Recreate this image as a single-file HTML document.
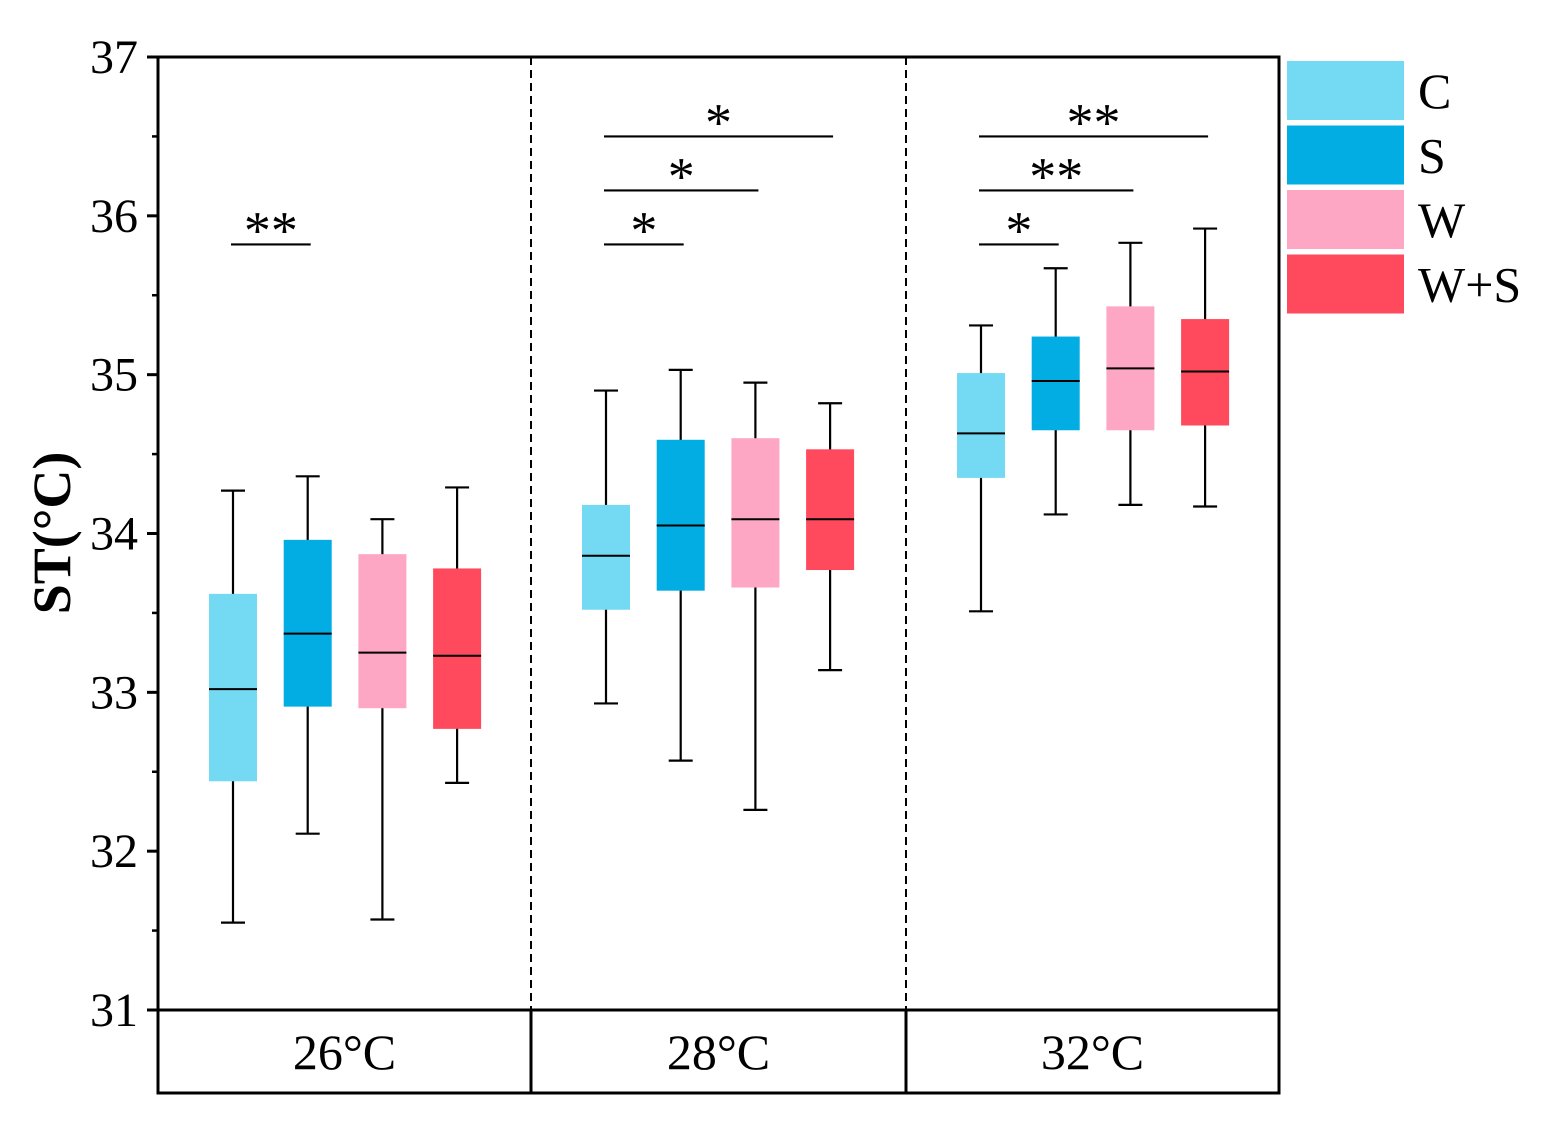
<!DOCTYPE html>
<html><head><meta charset="utf-8"><style>
body{margin:0;background:#fff}
text{font-family:"Liberation Serif","Times New Roman",Times,serif}
</style></head><body>
<svg id="chart" width="1545" height="1122" viewBox="0 0 1545 1122" xmlns="http://www.w3.org/2000/svg" font-family="Liberation Serif, Times New Roman, serif">
<g id="g"></g>
</svg>
<script>
const groups=["26°C","28°C","32°C"];
const series=["C","S","W","W+S"];
const colors=["#74d9f3","#02ade4","#fea7c4","#fe4a5c"];
const whiskerHigh=[[34.27,34.36,34.09,34.29],[34.90,35.03,34.95,34.82],[35.31,35.67,35.83,35.92]];
const q3=[[33.62,33.96,33.87,33.78],[34.18,34.59,34.60,34.53],[35.01,35.24,35.43,35.35]];
const medians=[[33.02,33.37,33.25,33.23],[33.86,34.05,34.09,34.09],[34.63,34.96,35.04,35.02]];
const q1=[[32.44,32.91,32.90,32.77],[33.52,33.64,33.66,33.77],[34.35,34.65,34.65,34.68]];
const whiskerLow=[[31.55,32.11,31.57,32.43],[32.93,32.57,32.26,33.14],[33.51,34.12,34.18,34.17]];
const yTicks=[31,32,33,34,35,36,37];
const sigLevels=[[35.82],[35.82,36.16,36.5],[35.82,36.16,36.5]];
const sigEnds=[[1],[1,2,3],[1,2,3]];
const sigMarks=[["**"],["*","*","*"],["*","**","**"]];

const NS="http://www.w3.org/2000/svg";
const g=document.getElementById('g');
const L=158,R=1279,T=57,B=1010,B2=1093;
const FF='"Liberation Serif","Times New Roman",serif';
const y=v=>B-(v-31)*(B-T)/6;
const gx0=[L,531,906],gw=[373,375,373];
const bx=(gi,si)=>gx0[gi]+75+si*74.7;
function el(t,a,p){const e=document.createElementNS(NS,t);for(const k in a)e.setAttribute(k,a[k]);if(t==='text')e.style.fontFamily=FF;(p||g).appendChild(e);return e;}
let e=el('rect',{x:L,y:T,width:R-L,height:B2-T,fill:'none',stroke:'#000','stroke-width':3});

e=el('line',{x1:L,x2:R,y1:B,y2:B,stroke:'#000','stroke-width':3});

[531,906].forEach((x,i)=>{
 e=el('line',{x1:x,x2:x,y1:T,y2:B,stroke:'#000','stroke-width':2,'stroke-dasharray':'8,5'});
 
 e=el('line',{x1:x,x2:x,y1:B,y2:B2,stroke:'#000','stroke-width':3});
 
});
yTicks.forEach((t,i)=>{
 e=el('line',{x1:L-11,x2:L,y1:y(t),y2:y(t),stroke:'#000','stroke-width':3});
 
 e=el('text',{x:138,y:y(t)+16,'text-anchor':'end','font-size':48});e.textContent=t;
 
 if(i<yTicks.length-1){e=el('line',{x1:L-6,x2:L,y1:y(t+0.5),y2:y(t+0.5),stroke:'#000','stroke-width':2.5});
 }
});
e=el('text',{x:0,y:0,'text-anchor':'middle','font-size':54,'font-weight':'bold',transform:'translate(70,533) rotate(-90)'});e.textContent='ST(°C)';

groups.forEach((gn,gi)=>{
 e=el('text',{x:gx0[gi]+gw[gi]/2,y:1069,'text-anchor':'middle','font-size':50});e.textContent=gn;
 
 series.forEach((s,si)=>{
  const cx=bx(gi,si),w=48;
  e=el('line',{x1:cx,x2:cx,y1:y(whiskerHigh[gi][si]),y2:y(whiskerLow[gi][si]),stroke:'#000','stroke-width':2.2});
  
  [whiskerHigh[gi][si],whiskerLow[gi][si]].forEach(v=>{e=el('line',{x1:cx-12,x2:cx+12,y1:y(v),y2:y(v),stroke:'#000','stroke-width':2.2});
  });
  e=el('rect',{x:cx-w/2,y:y(q3[gi][si]),width:w,height:y(q1[gi][si])-y(q3[gi][si]),fill:colors[si]});
  
  e=el('line',{x1:cx-w/2,x2:cx+w/2,y1:y(medians[gi][si]),y2:y(medians[gi][si]),stroke:'#000','stroke-width':2});
  
 });
 sigLevels[gi].forEach((lv,k)=>{
  const x1=bx(gi,0)-2,x2=bx(gi,sigEnds[gi][k])+3;
  e=el('line',{x1:x1,x2:x2,y1:y(lv),y2:y(lv),stroke:'#000','stroke-width':2.2});
  
  e=el('text',{x:(x1+x2)/2,y:y(lv)+4,'text-anchor':'middle','font-size':54});e.textContent=sigMarks[gi][k];
  
 });
});
series.forEach((s,si)=>{
 const ty=61+si*64.5;
 e=el('rect',{x:1287,y:ty,width:117,height:59,fill:colors[si]});
 
 e=el('text',{x:1418,y:ty+47,'font-size':50});e.textContent=s;
 
});
</script>
</body></html>
